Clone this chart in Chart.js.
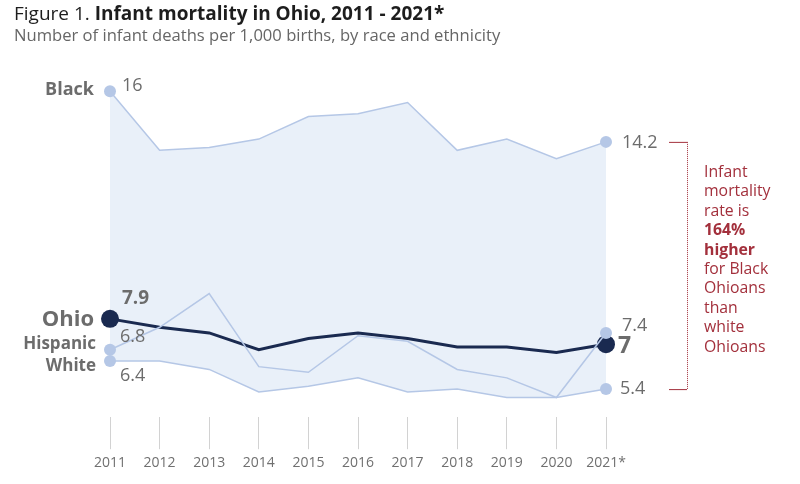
<!DOCTYPE html>
<html>
<head>
<meta charset="utf-8">
<script src="https://cdn.jsdelivr.net/npm/chart.js@4.4.1/dist/chart.umd.min.js"></script>
<style>
  body { margin: 0; background: #fff; font-family: "Open Sans", Lato, sans-serif; }
  #wrap { position: relative; width: 800px; height: 484px; overflow: hidden; }
  #chart { position: absolute; left: 0; top: 0; }
  .title { position: absolute; left: 14px; top: 1px; font-size: 19px; line-height: 24px; color: #1d1d1d; white-space: nowrap; }
  .title b { font-weight: 700; }
  .sub { position: absolute; left: 14px; top: 25px; font-size: 16.6px; line-height: 20px; color: #666; white-space: nowrap; }
  .note { position: absolute; left: 704px; top: 162px; font-size: 15.8px; line-height: 19.4px; color: #a3303c; }
</style>
</head>
<body>
<div id="wrap">
  <canvas id="chart" width="800" height="484"></canvas>
  <div class="title">Figure 1. <b>Infant mortality in Ohio, 2011 - 2021*</b></div>
  <div class="sub">Number of infant deaths per 1,000 births, by race and ethnicity</div>
  <div class="note">Infant<br>mortality<br>rate is<br><b>164%<br>higher</b><br>for Black<br>Ohioans<br>than<br>white<br>Ohioans</div>
</div>
<script>
// data (deaths per 1,000 births)
const years = ["2011", "2012", "2013", "2014", "2015", "2016", "2017", "2018", "2019", "2020", "2021*"];
const black = [16, 13.9, 14.0, 14.3, 15.1, 15.2, 15.6, 13.9, 14.3, 13.6, 14.2];
const hispanic = [6.8, 7.6, 8.8, 6.2, 6.0, 7.3, 7.1, 6.1, 5.8, 5.1, 7.4];
const white = [6.4, 6.4, 6.1, 5.3, 5.5, 5.8, 5.3, 5.4, 5.1, 5.1, 5.4];
const ohio = [7.9, 7.6, 7.4, 6.8, 7.2, 7.4, 7.2, 6.9, 6.9, 6.7, 7.0];

const LIGHT = "#b5c7e6";
const NAVY = "#1a2a50";
const GREY = "#6c6c6c";
const RED = "#a3303c";
const FONT = "'Open Sans', Lato, sans-serif";

// dots only on first and last year
function endDots(r) {
  return ctx => (ctx.dataIndex === 0 || ctx.dataIndex === years.length - 1) ? r : 0;
}

// labels drawn next to the end points
const endLabels = [
  { ds: 0, name: "Black", nameSize: 18, nameDx: -16, nameDy: -1,
    left: { size: 18, bold: false, dx: 12, dy: -5 }, right: { size: 18, bold: false, dx: 16, dy: 1 } },
  { ds: 3, name: "Ohio", nameSize: 22, nameDx: -16, nameDy: 1,
    left: { size: 19, bold: true, dx: 12, dy: -20 }, right: { size: 23, bold: true, dx: 12, dy: 2 } },
  { ds: 1, name: "Hispanic", nameSize: 17, nameDx: -14, nameDy: -6,
    left: { size: 18, bold: false, dx: 10, dy: -13 }, right: { size: 18, bold: false, dx: 16, dy: -7 } },
  { ds: 2, name: "White", nameSize: 17, nameDx: -14, nameDy: 5,
    left: { size: 18, bold: false, dx: 10, dy: 15 }, right: { size: 18, bold: false, dx: 14, dy: 0 } },
];

const labelPlugin = {
  id: "endLabels",
  afterDatasetsDraw(chart) {
    const c = chart.ctx;
    const last = years.length - 1;
    c.save();
    c.textBaseline = "middle";
    endLabels.forEach(l => {
      const meta = chart.getDatasetMeta(l.ds);
      const vals = chart.data.datasets[l.ds].data;
      const p0 = meta.data[0], p1 = meta.data[last];
      c.fillStyle = GREY;
      c.textAlign = "right";
      c.font = `bold ${l.nameSize}px ${FONT}`;
      c.fillText(l.name, p0.x + l.nameDx, p0.y + l.nameDy);
      c.textAlign = "left";
      c.font = `${l.left.bold ? "bold " : ""}${l.left.size}px ${FONT}`;
      c.fillText(String(vals[0]), p0.x + l.left.dx, p0.y + l.left.dy);
      c.font = `${l.right.bold ? "bold " : ""}${l.right.size}px ${FONT}`;
      c.fillText(String(vals[last]), p1.x + l.right.dx, p1.y + l.right.dy);
    });

    // bracket between Black and White in the last year
    const yTop = chart.getDatasetMeta(0).data[last].y;
    const yBot = chart.getDatasetMeta(2).data[last].y;
    const x0 = chart.chartArea.right + 63, x1 = chart.chartArea.right + 81;
    c.strokeStyle = RED;
    c.lineWidth = 1;
    c.beginPath();
    c.moveTo(x0, yTop + 0.5); c.lineTo(x1, yTop + 0.5);
    c.moveTo(x0, yBot + 0.5); c.lineTo(x1, yBot + 0.5);
    c.stroke();
    c.setLineDash([1, 1]);
    c.beginPath();
    c.moveTo(x1 + 0.5, yTop); c.lineTo(x1 + 0.5, yBot);
    c.stroke();
    c.restore();
  }
};

new Chart(document.getElementById("chart"), {
  type: "line",
  data: {
    labels: years,
    datasets: [
      { label: "Black", data: black, borderColor: LIGHT, backgroundColor: LIGHT, borderWidth: 1.5,
        fill: { target: 2, above: "#e9f0f9", below: "#e9f0f9" }, pointRadius: endDots(6), pointBorderWidth: 0, clip: false },
      { label: "Hispanic", data: hispanic, borderColor: LIGHT, backgroundColor: LIGHT, borderWidth: 1.5,
        fill: false, pointRadius: endDots(6), pointBorderWidth: 0, clip: false },
      { label: "White", data: white, borderColor: LIGHT, backgroundColor: LIGHT, borderWidth: 1.5,
        fill: false, pointRadius: endDots(6), pointBorderWidth: 0, clip: false },
      { label: "Ohio", data: ohio, borderColor: NAVY, backgroundColor: NAVY, borderWidth: 3,
        fill: false, pointRadius: endDots(9), pointBorderWidth: 0, clip: false },
    ],
  },
  options: {
    responsive: false,
    animation: false,
    layout: { padding: { left: 110, right: 194, top: 57.6, bottom: 8 } },
    plugins: {
      legend: { display: false }, tooltip: { enabled: false }, title: { display: false },
      filler: { drawTime: "beforeDatasetsDraw" },
    },
    elements: { line: { tension: 0 } },
    scales: {
      x: {
        offset: false,
        border: { display: false },
        grid: { drawOnChartArea: false, drawTicks: true, tickLength: 32, color: "#d2d2d2", lineWidth: 1 },
        ticks: { color: "#707070", font: { family: FONT, size: 14 }, padding: 5, maxRotation: 0, autoSkip: false },
      },
      y: { display: false, min: 4.4, max: 17.2 },
    },
  },
  plugins: [labelPlugin],
});
</script>
</body>
</html>
